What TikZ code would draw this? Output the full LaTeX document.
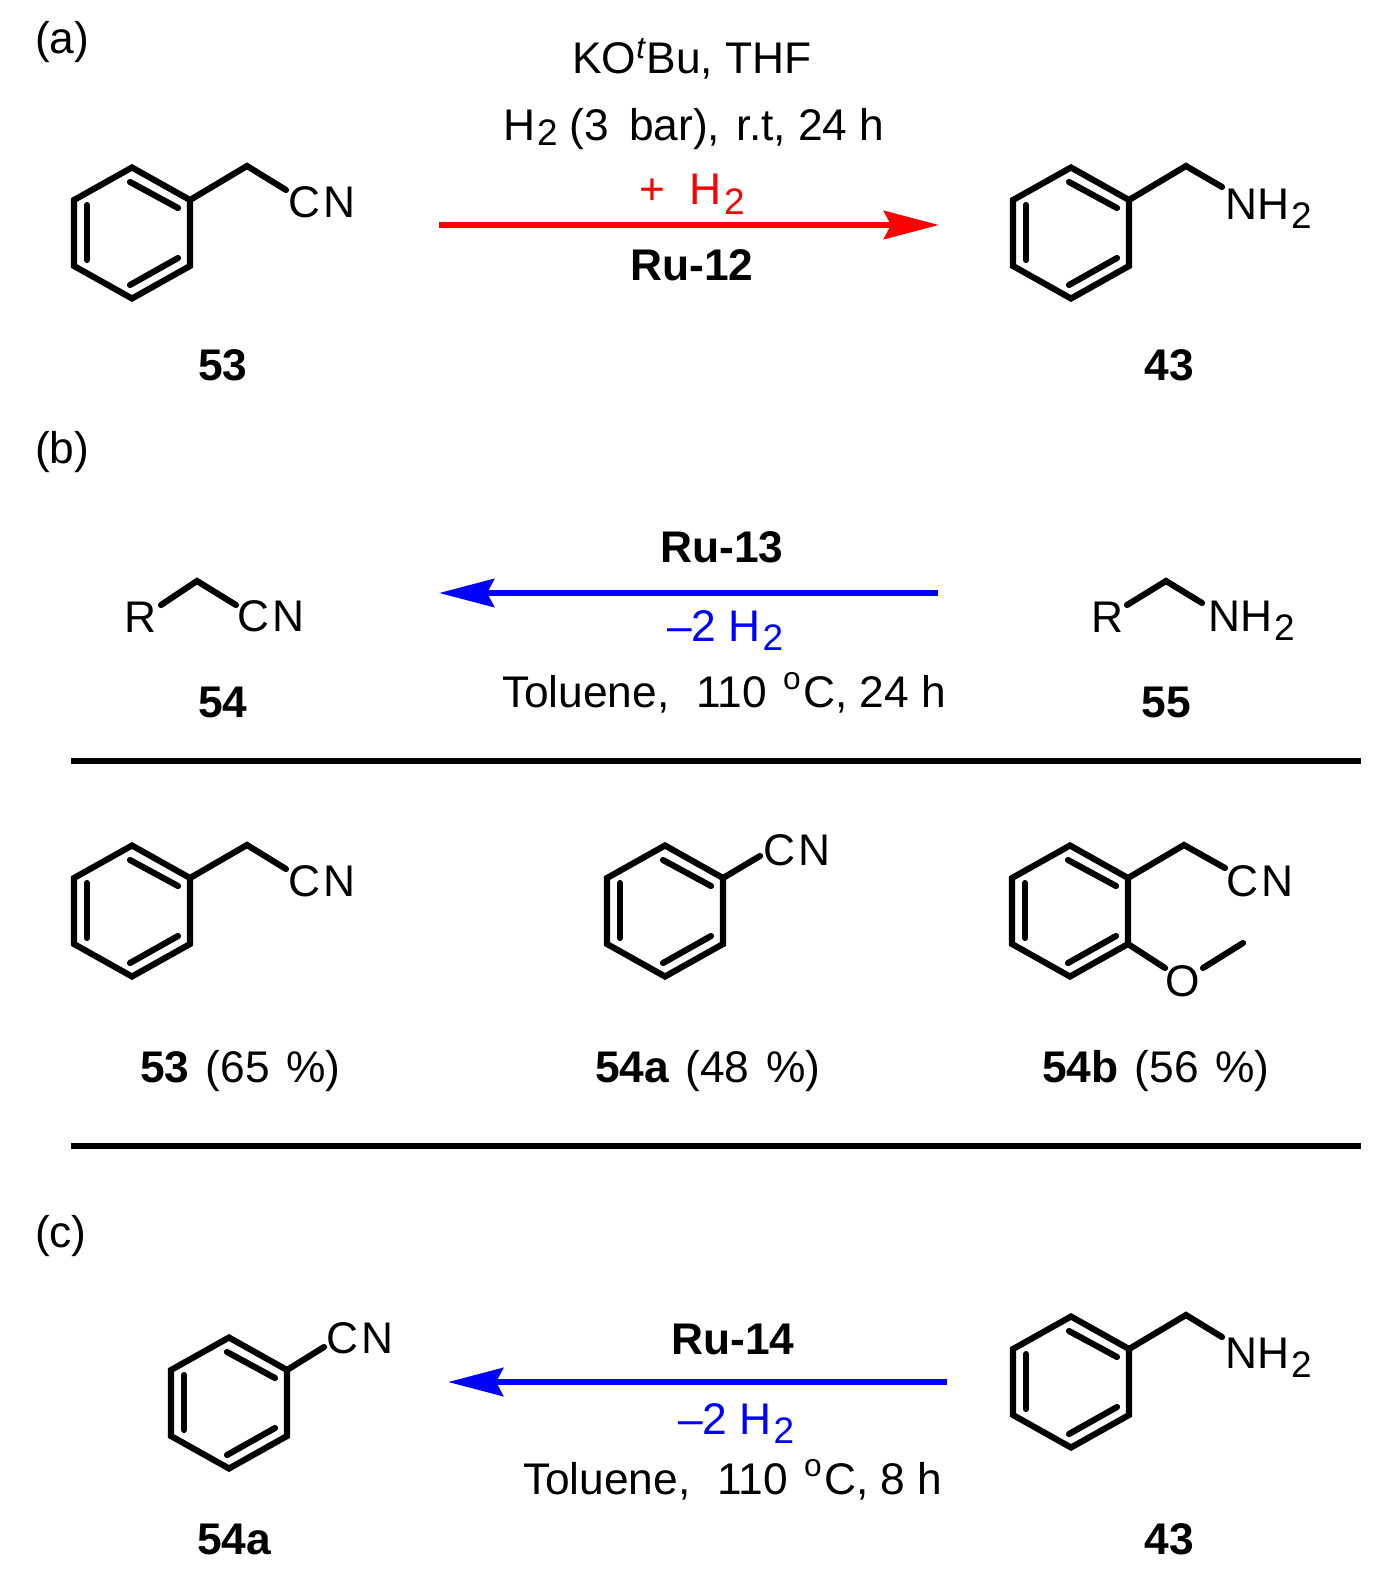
\documentclass[tikz,border=0pt]{standalone}
\usepackage{fontspec}
\setmainfont{Liberation Sans}
\usetikzlibrary{arrows.meta}
\newcommand{\subtwo}{\kern0.6pt\raisebox{-2.8pt}{\fontsize{10.5}{10.5}\selectfont 2}}
\newcommand{\subthin}{\kern0.6pt\raisebox{-1.6pt}{\fontsize{10.5}{10.5}\selectfont 2}}
\newcommand{\dego}{\kern1pt\raisebox{5pt}{\fontsize{9}{9}\selectfont o}\kern0.7pt}
\newcommand{\cyano}{C\kern1pt N}
\tikzset{bd/.style = {line width=1.75pt, line cap=round, line join=miter},
           tl/.style = {inner sep=0pt, outer sep=0pt, anchor=base west, font=\fontsize{12.6}{14}\selectfont},
           tc/.style = {inner sep=0pt, outer sep=0pt, anchor=base, font=\fontsize{12.6}{14}\selectfont},
           ar/.style = {line width=1.85pt, -{Stealth[length=0.55cm, width=0.28cm, inset=0.07cm]}},
           ln/.style = {line width=1.85pt},
           ring/.pic = {
             \coordinate (-t) at (0,-65.5); \coordinate (-ur) at (58,-33); \coordinate (-lr) at (58,33);
             \coordinate (-b) at (0,65.5); \coordinate (-ll) at (-58,33); \coordinate (-ul) at (-58,-33);
             \draw[bd] (-t) -- (-ur) -- (-lr) -- (-b) -- (-ll) -- (-ul) -- cycle;
             \draw[bd] (-2,-51) -- (46,-25);
             \draw[bd] (46,25) -- (-2,52);
             \draw[bd] (-45,-28) -- (-45,27);
           }}

\begin{document}
\begin{tikzpicture}[x=0.01cm, y=-0.01cm]
    \useasboundingbox (0,0) rectangle (1395,1576);
    % (a)
    \node[tl] (la) at (35,54) {(a)};
    \pic (r1) at (132,233) {ring};
    \coordinate (c1) at (247,166); \coordinate (e1) at (286,190);
    \node[tl] (cn1) at (288,217) {\cyano};
    \draw[bd] (r1-ur) -- (c1) -- (e1);
    \node[tc] (n53) at (223,380) {\bfseries 53};
    \node[tc] (ca1) at (692,74) {KO\textsuperscript{\itshape t}Bu, THF};
    \node[tl] (ca2) at (503,140) {H\subthin{} (3\, bar),\kern1.2pt{} r.t, 24 h};
    \node[tc, text=red] (ca3) at (692,205) {+\; H\subtwo};
    \node[tc] (ca4) at (692,281) {\bfseries Ru-12};
    \coordinate (a1s) at (439,225); \coordinate (a1e) at (939,225);
    \draw[ar, red] (a1s) -- (a1e);
    \pic (r2) at (1071,233) {ring};
    \coordinate (c2) at (1186,166); \coordinate (e2) at (1222,187);
    \node[tl] (nh1) at (1225,219) {NH\subtwo};
    \draw[bd] (r2-ur) -- (c2) -- (e2);
    \node[tc] (n43) at (1169,380) {\bfseries 43};
    % (b)
    \node[tl] (lb) at (35,463) {(b)};
    \node[tl] (rr1) at (124,632) {R};
    \coordinate (s3) at (161,605); \coordinate (c3) at (197,581); \coordinate (e3) at (236,605);
    \draw[bd] (s3) -- (c3) -- (e3);
    \node[tl] (cn3) at (237,631) {\cyano};
    \node[tc] (n54) at (223,717) {\bfseries 54};
    \node[tc] (cb1) at (722,562) {\bfseries Ru-13};
    \coordinate (a2s) at (938,593); \coordinate (a2e) at (439,593);
    \draw[ar, blue] (a2s) -- (a2e);
    \node[tl, text=blue] (cb2) at (667,641) {–2 H\subtwo};
    \node[tl] (cb3) at (502,707) {Toluene,\,\, 110 \dego C, 24 h};
    \node[tl] (rr2) at (1091,632) {R};
    \coordinate (s4) at (1127,605); \coordinate (c4) at (1166,581); \coordinate (e4) at (1202,603);
    \draw[bd] (s4) -- (c4) -- (e4);
    \node[tl] (nh2) at (1208,631) {NH\subtwo};
    \node[tc] (n55) at (1166,717) {\bfseries 55};
    \coordinate (l1s) at (71,761); \coordinate (l1e) at (1361,761);
    \draw[ln] (l1s) -- (l1e);
    % products
    \pic (r3) at (132,911) {ring};
    \coordinate (c5) at (247,845); \coordinate (e5) at (286,869);
    \node[tl] (cn5) at (288,896) {\cyano};
    \draw[bd] (r3-ur) -- (c5) -- (e5);
    \node[tl] (n53b) at (140,1082) {\bfseries 53\kern1.2pt{} \mdseries (65\kern1.2pt{} \%)};
    \pic (r4) at (665,911) {ring};
    \coordinate (e6) at (760,856);
    \node[tl] (cn6) at (763,865) {\cyano};
    \draw[bd] (r4-ur) -- (e6);
    \node[tl] (n54a) at (595,1082) {\bfseries 54a\kern1.2pt{} \mdseries (48\kern1.2pt{} \%)};
    \pic (r5) at (1070,911) {ring};
    \coordinate (c7) at (1184,845); \coordinate (e7) at (1225,868);
    \node[tl] (cn7) at (1226,896) {\cyano};
    \draw[bd] (r5-ur) -- (c7) -- (e7);
    \node[tc] (ox) at (1183,996) {O};
    \coordinate (o1) at (1165,968); \coordinate (o2) at (1203,968); \coordinate (me) at (1243,943);
    \draw[bd] (r5-lr) -- (o1);
    \draw[bd] (o2) -- (me);
    \node[tl] (n54b) at (1042,1082) {\bfseries 54b\kern1.2pt{} \mdseries (56\kern1.2pt{} \%)};
    \coordinate (l2s) at (71,1146); \coordinate (l2e) at (1361,1146);
    \draw[ln] (l2s) -- (l2e);
    % (c)
    \node[tl] (lc) at (35,1247) {(c)};
    \pic (r6) at (229,1403) {ring};
    \coordinate (e8) at (324,1347);
    \node[tl] (cn8) at (326,1353) {\cyano};
    \draw[bd] (r6-ur) -- (e8);
    \node[tc] (n54c) at (234,1554) {\bfseries 54a};
    \node[tc] (cc1) at (733,1354) {\bfseries Ru-14};
    \coordinate (a3s) at (947,1382); \coordinate (a3e) at (448,1382);
    \draw[ar, blue] (a3s) -- (a3e);
    \node[tl, text=blue] (cc2) at (678,1434) {–2 H\subtwo};
    \node[tl] (cc3) at (523,1494) {Toluene,\,\, 110 \dego C, 8 h};
    \pic (r7) at (1071,1382) {ring};
    \coordinate (c9) at (1186,1315); \coordinate (e9) at (1222,1337);
    \node[tl] (nh3) at (1225,1368) {NH\subtwo};
    \draw[bd] (r7-ur) -- (c9) -- (e9);
    \node[tc] (n43c) at (1169,1554) {\bfseries 43};
\end{tikzpicture}
\end{document}
